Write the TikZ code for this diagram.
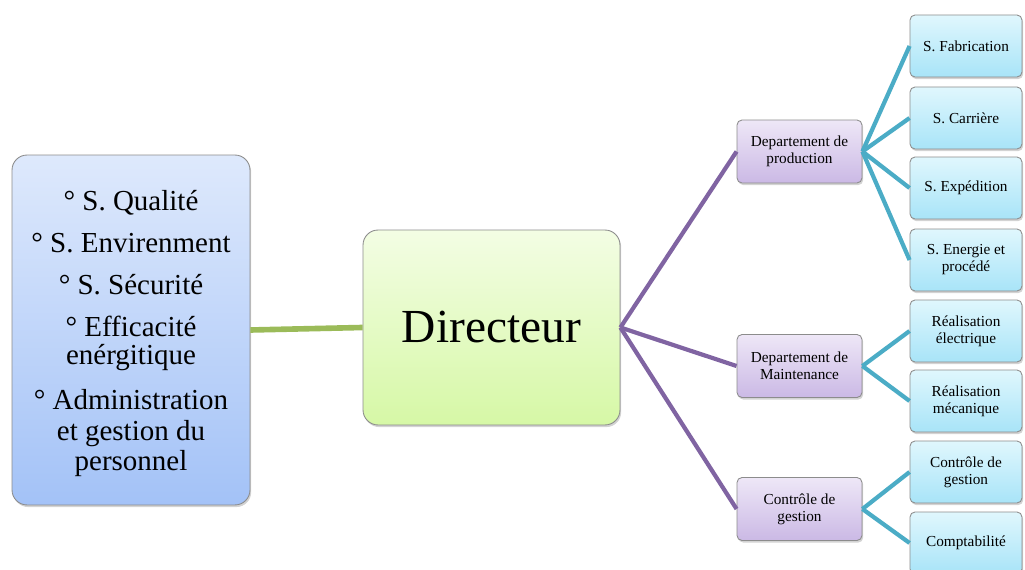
\documentclass[tikz,border=0pt]{standalone}
\usepackage{fontspec}
\setmainfont{Liberation Serif}
\usetikzlibrary{shadows}

\definecolor{staffTop}{RGB}{222,233,252}
\definecolor{staffBot}{RGB}{163,194,247}
\definecolor{headTop}{RGB}{243,253,228}
\definecolor{headBot}{RGB}{214,248,166}
\definecolor{deptTop}{RGB}{238,231,247}
\definecolor{deptBot}{RGB}{203,185,229}
\definecolor{servTop}{RGB}{224,247,253}
\definecolor{servBot}{RGB}{168,228,248}
\definecolor{lineGreen}{RGB}{155,187,89}
\definecolor{linePurple}{RGB}{128,100,162}
\definecolor{lineTeal}{RGB}{75,172,198}

\begin{document}
\begin{tikzpicture}[
            x = 0.02cm, y = -0.02cm, % one unit = one pixel of the sketch
            box/.style={rectangle, rounded corners=0.1cm, draw=black!45, line width=0.5pt, align=center,
                drop shadow={shadow xshift=0.7pt, shadow yshift=-1.2pt, opacity=0.35}},
            staff/.style={box, rounded corners=0.3cm, minimum width=4.76cm, minimum height=7cm,
                top color=staffTop, bottom color=staffBot, font=\fontsize{16.5}{15.9}\selectfont},
            head/.style={box, rounded corners=0.3cm, minimum width=5.14cm, minimum height=3.9cm,
                top color=headTop, bottom color=headBot, font=\fontsize{27}{30}\selectfont},
            dept/.style={box, minimum width=2.5cm, minimum height=1.26cm,
                top color=deptTop, bottom color=deptBot, font=\fontsize{8.7}{9.6}\selectfont},
            service/.style={box, minimum width=2.24cm, minimum height=1.24cm,
                top color=servTop, bottom color=servBot, font=\fontsize{8.7}{9.6}\selectfont},
            staffline/.style={draw=lineGreen, line width=3.2pt},
            deptline/.style={draw=linePurple, line width=2.4pt},
            servline/.style={draw=lineTeal, line width=2.4pt}
        ]

        \useasboundingbox (0,0) rectangle (1025,570);
        \clip (0,0) rectangle (1025,570);

        % Staff box and director
        \node[staff] (staff) at (131,330) {\rule{0pt}{15.6pt}° S. Qualité\\[8pt]
            ° S. Envirenment\\[8pt]
            ° S. Sécurité\\[8pt]
            ° Efficacité\\ enérgitique\\[10pt]
            ° Administration\\[1.5pt] et gestion du\\[1.5pt] personnel};
        \node[head] (dir) at (491.5,327.5) {Directeur};

        % Departments
        \node[dept] (prod) at (799.5,151.5) {Departement de\\ production};
        \node[dept] (maint) at (799.5,366) {Departement de\\ Maintenance};
        \node[dept] (ctrl) at (799.5,509) {Contrôle de\\ gestion};

        % Services
        \node[service] (fab) at (966,46) {S. Fabrication};
        \node[service] (carr) at (966,118) {S. Carrière};
        \node[service] (exped) at (966,188) {S. Expédition};
        \node[service] (energ) at (966,260) {S. Energie et\\ procédé};
        \node[service] (relec) at (966,331) {Réalisation\\ électrique};
        \node[service] (rmeca) at (966,401) {Réalisation\\ mécanique};
        \node[service] (cgest) at (966,472) {Contrôle de\\ gestion};
        \node[service] (compta) at (966,543) {Comptabilité};

        % Connections
        \draw[staffline] (staff.east) -- (dir.west);

        \foreach \d in {prod,maint,ctrl}
        \draw[deptline] (dir.east) -- (\d.west);

        \foreach \s in {fab,carr,exped,energ}
        \draw[servline] (prod.east) -- (\s.west);

        \foreach \s in {relec,rmeca}
        \draw[servline] (maint.east) -- (\s.west);

        \foreach \s in {cgest,compta}
        \draw[servline] (ctrl.east) -- (\s.west);

    \end{tikzpicture}
\end{document}
